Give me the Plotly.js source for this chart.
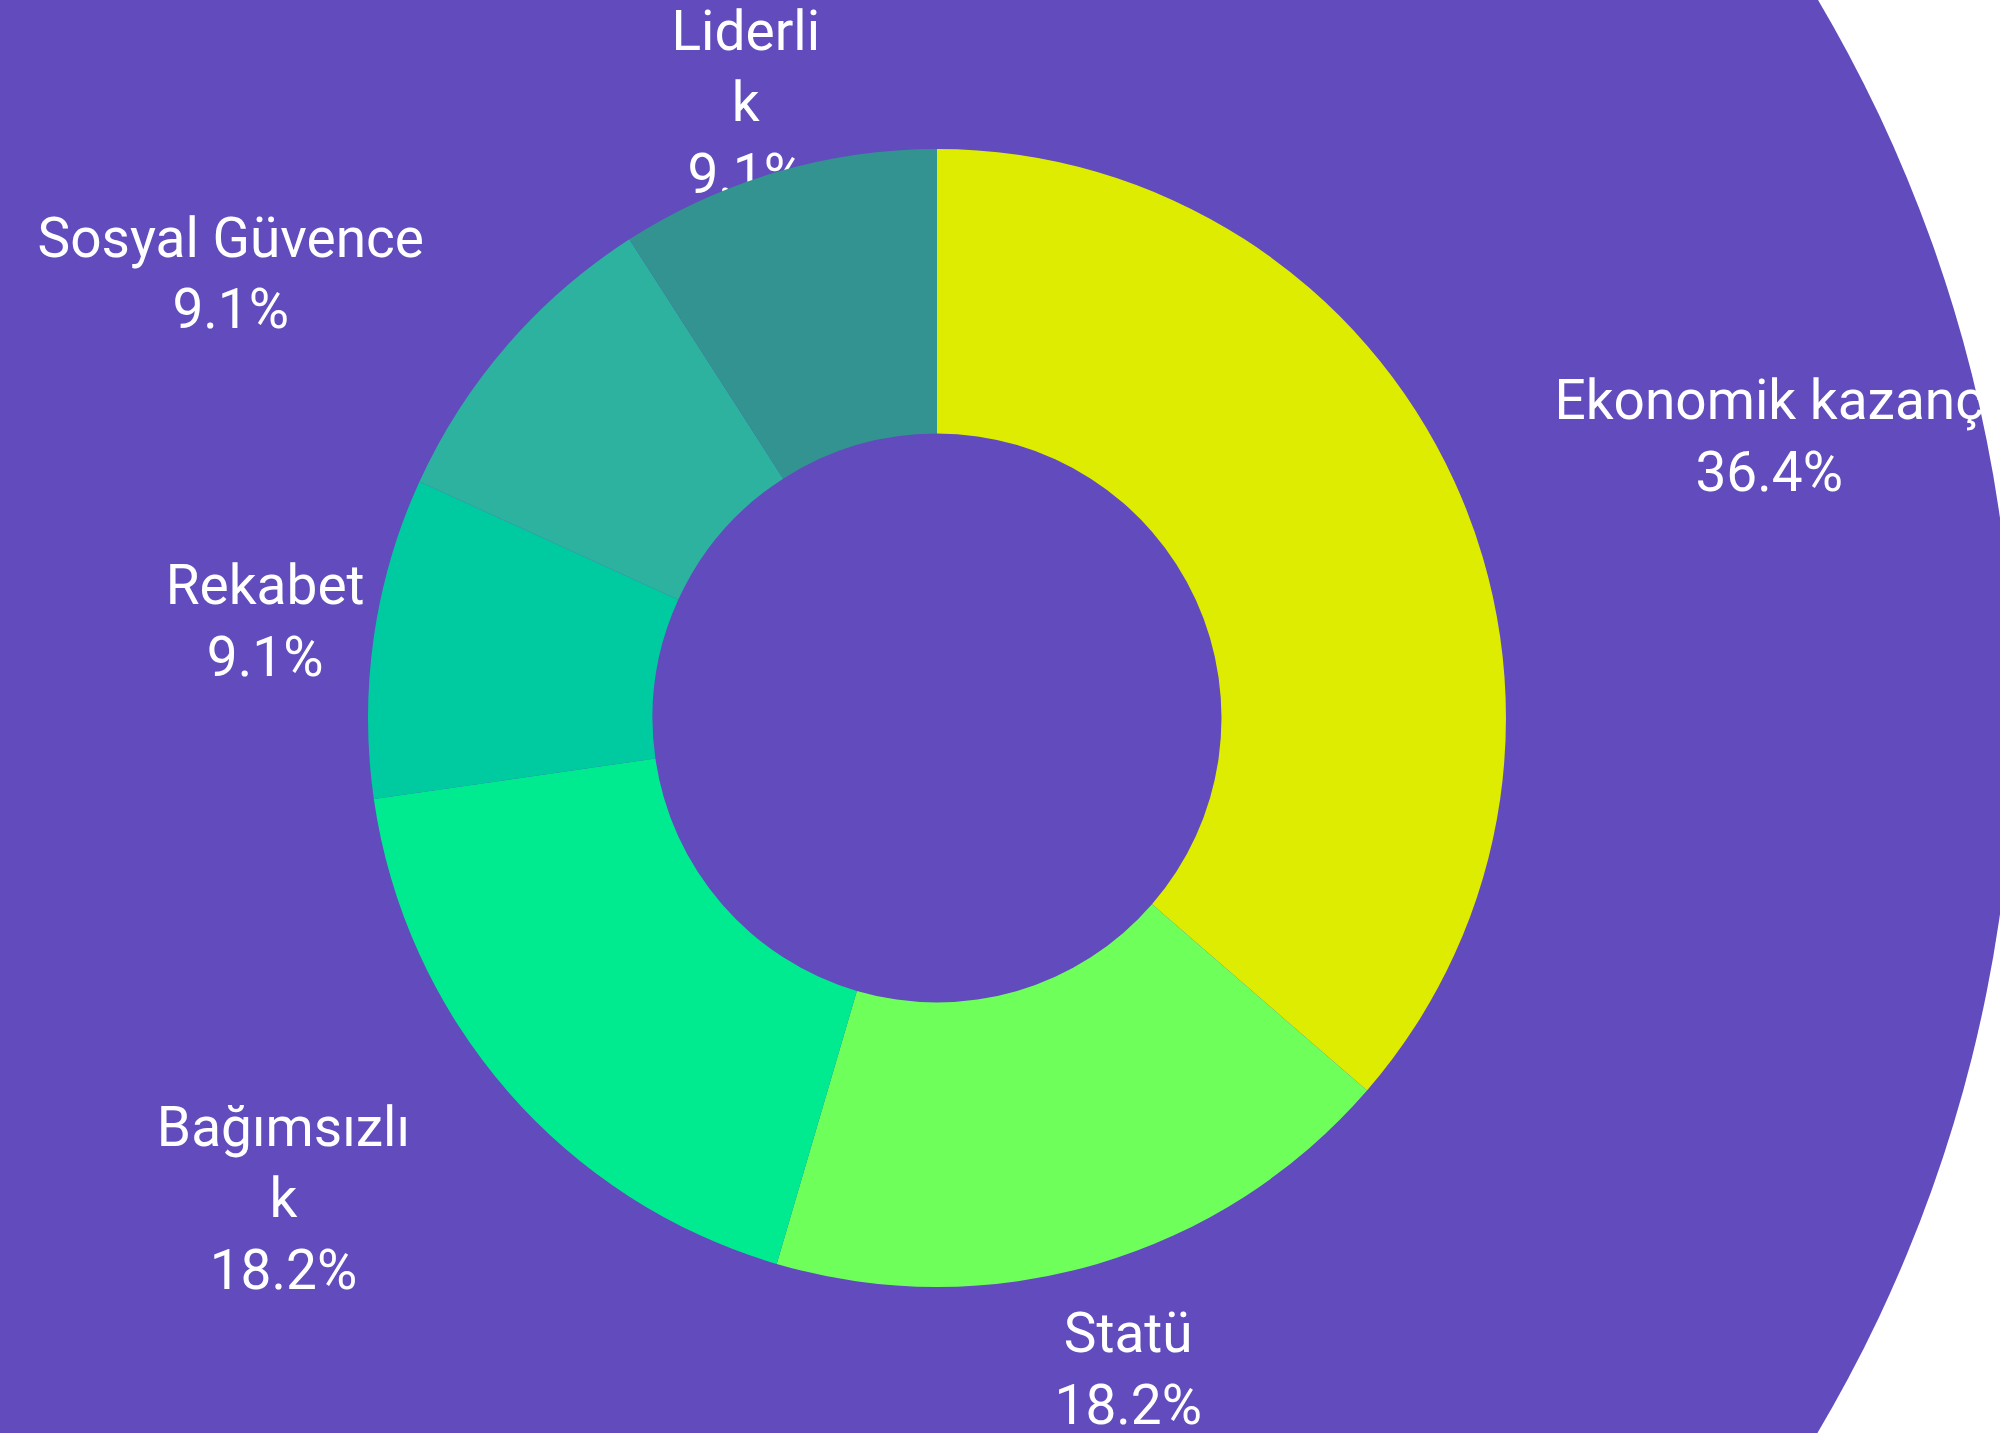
<!DOCTYPE html>
<html>
<head>
<meta charset="utf-8">
<script src="https://cdn.plot.ly/plotly-3.0.1.min.js"></script>
<style>
  html, body { margin: 0; padding: 0; background: #ffffff; }
  #chart { width: 2000px; height: 1433px; }
</style>
</head>
<body>
<div id="chart"></div>
<script>
// Data
const categories = ['Ekonomik kazanç', 'Statü', 'Bağımsızlık', 'Rekabet', 'Sosyal Güvence', 'Liderlik'];
const displayLabels = ['Ekonomik kazanç', 'Statü', 'Bağımsızlı<br>k', 'Rekabet', 'Sosyal Güvence', 'Liderli<br>k'];
const values = [4, 2, 2, 1, 1, 1];
const sliceColors = ['#DDEC00', '#6FFF5B', '#00EB8F', '#00CBA0', '#2EB2A0', '#339390'];

// Layout settings
const W = 2000, H = 1433;
const pieDomain = { x: [0.184, 0.753], y: [0.1019, 0.896] };
const holeFrac = 0.5;
const fontFamily = 'Roboto, "Open Sans", sans-serif';
const fontSize = 55;
const lineH = 1.3 * fontSize;
const labelRadiusFactor = 1.193;
const baselineShift = 5;

// Pie geometry (derived from the domain, the same way Plotly sizes a pie)
const cx = (pieDomain.x[0] + pieDomain.x[1]) / 2 * W;
const cy = (1 - (pieDomain.y[0] + pieDomain.y[1]) / 2) * H;
const R = Math.min((pieDomain.x[1] - pieDomain.x[0]) * W, (pieDomain.y[1] - pieDomain.y[0]) * H) / 2;

// Label placement computed from the values
const total = values.reduce((a, b) => a + b, 0);
const ctx = document.createElement('canvas').getContext('2d');
ctx.font = fontSize + 'px Roboto';
const labelX = [], labelY = [], labelText = [];
let cum = 0;
values.forEach((v, i) => {
  const theta = 2 * Math.PI * (cum + v / 2) / total;
  cum += v;
  const s = Math.sin(theta), c = Math.cos(theta);
  const ax = cx + labelRadiusFactor * R * s;
  const ay = cy - labelRadiusFactor * R * c;
  const pct = (100 * v / total).toFixed(1) + '%';
  const hw = Math.max(ctx.measureText(categories[i]).width, ctx.measureText(pct).width) / 2;
  // does a centred label box run into the donut?
  const nx = Math.min(Math.max(cx, ax - hw), ax + hw);
  const ny = Math.min(Math.max(cy, ay - lineH), ay + lineH);
  const overlap = Math.hypot(nx - cx, ny - cy) < R;
  const x = overlap ? ax + Math.sign(s) * hw : ax;
  const nLines = displayLabels[i].split('<br>').length + 1;
  const y = ay + (nLines - 2) * lineH / 2 + baselineShift;
  labelX.push(x);
  labelY.push(y);
  labelText.push(displayLabels[i] + '<br>' + pct);
});

const pieTrace = {
  type: 'pie',
  labels: categories,
  values: values,
  textinfo: 'none',
  hole: holeFrac,
  sort: false,
  direction: 'clockwise',
  rotation: 0,
  marker: { colors: sliceColors, line: { width: 0 } },
  domain: pieDomain,
  showlegend: false,
  hoverinfo: 'label+percent'
};

const labelTrace = {
  type: 'scatter',
  mode: 'text',
  x: labelX,
  y: labelY,
  text: labelText,
  textposition: 'middle center',
  textfont: { family: fontFamily, size: fontSize, color: '#ffffff' },
  cliponaxis: false,
  hoverinfo: 'skip',
  showlegend: false
};

const layout = {
  width: W,
  height: H,
  margin: { l: 0, r: 0, t: 0, b: 0, pad: 0 },
  paper_bgcolor: '#ffffff',
  plot_bgcolor: 'rgba(0,0,0,0)',
  showlegend: false,
  font: { family: fontFamily, color: '#ffffff' },
  xaxis: { range: [0, W], visible: false, fixedrange: true },
  yaxis: { range: [H, 0], visible: false, fixedrange: true },
  shapes: [{
    type: 'circle',
    xref: 'paper', yref: 'paper',
    x0: (608 - 1406) / W, x1: (608 + 1406) / W,
    y0: 1 - (716 + 1406) / H, y1: 1 - (716 - 1406) / H,
    fillcolor: '#614BBD',
    line: { width: 0 },
    layer: 'below'
  }]
};

Plotly.newPlot('chart', [labelTrace, pieTrace], layout, { displayModeBar: false, staticPlot: true });
</script>
</body>
</html>
